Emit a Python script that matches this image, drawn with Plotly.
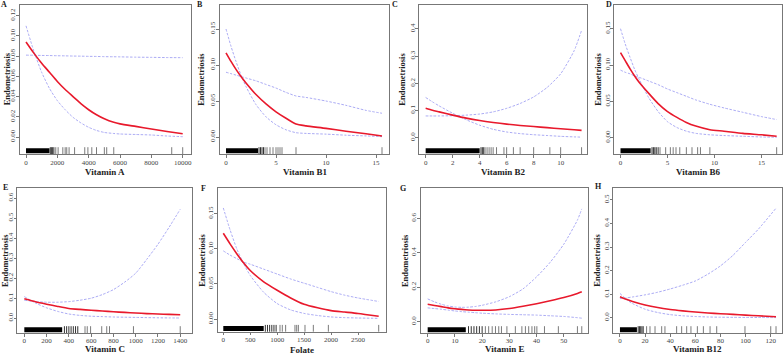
import plotly.graph_objects as go

W, H = 784, 354

# ---------------- data ----------------
A_x = [0, 500, 1000, 1500, 2000, 2500, 3000, 3500, 4000, 4500, 5000, 5600, 6000, 7000, 8000, 9000, 10000]
A_fit = [0.094, 0.083, 0.073, 0.064, 0.055, 0.047, 0.040, 0.033, 0.027, 0.022, 0.018, 0.0145, 0.013, 0.0105, 0.008, 0.0055, 0.0033]
A_lo = [0.110, 0.085, 0.064, 0.048, 0.036, 0.027, 0.0195, 0.014, 0.0096, 0.0065, 0.0045, 0.0035, 0.003, 0.0025, 0.002, 0.001, 0.0003]
A_hi = [0.081, 0.0809, 0.0807, 0.0806, 0.0804, 0.0803, 0.0801, 0.08, 0.0798, 0.0797, 0.0795, 0.0794, 0.0793, 0.079, 0.0788, 0.0786, 0.0785]

B_x = [0, 0.5, 1, 1.5, 2, 3, 4, 5, 6, 7, 8, 10, 12, 14, 15.6]
B_fit = [0.117, 0.105, 0.094, 0.084, 0.075, 0.059, 0.046, 0.035, 0.026, 0.018, 0.0155, 0.012, 0.008, 0.0045, 0.0015]
B_lo = [0.150, 0.126, 0.105, 0.086, 0.070, 0.045, 0.028, 0.017, 0.010, 0.006, 0.005, 0.004, 0.0025, 0.0015, 0.0005]
B_hi = [0.090, 0.088, 0.086, 0.084, 0.082, 0.078, 0.073, 0.068, 0.062, 0.057, 0.055, 0.050, 0.044, 0.037, 0.033]

C_x = [0, 0.5, 1, 2, 3, 4, 5, 6, 7, 8, 9, 10, 11, 11.55]
C_fit = [0.108, 0.101, 0.095, 0.083, 0.072, 0.063, 0.056, 0.050, 0.045, 0.041, 0.037, 0.033, 0.029, 0.027]
C_lo = [0.148, 0.132, 0.117, 0.090, 0.066, 0.046, 0.031, 0.021, 0.015, 0.011, 0.008, 0.005, 0.003, 0.002]
C_hi = [0.080, 0.080, 0.080, 0.081, 0.083, 0.087, 0.095, 0.108, 0.126, 0.150, 0.185, 0.235, 0.320, 0.395]

D_x = [0, 0.5, 1, 1.5, 2, 3, 4, 5, 6, 7, 8, 9.5, 11, 13, 15, 16.6]
D_fit = [0.117, 0.106, 0.095, 0.085, 0.076, 0.061, 0.047, 0.036, 0.028, 0.021, 0.016, 0.011, 0.009, 0.006, 0.004, 0.002]
D_lo = [0.150, 0.129, 0.111, 0.094, 0.080, 0.055, 0.036, 0.022, 0.014, 0.009, 0.006, 0.004, 0.003, 0.002, 0.001, 0.0005]
D_hi = [0.093, 0.090, 0.088, 0.085, 0.083, 0.078, 0.073, 0.067, 0.062, 0.057, 0.052, 0.046, 0.041, 0.035, 0.029, 0.025]

E_x = [0, 100, 200, 300, 400, 500, 600, 700, 800, 900, 1000, 1100, 1200, 1300, 1400]
E_fit = [0.097, 0.082, 0.070, 0.059, 0.049, 0.044, 0.040, 0.036, 0.032, 0.029, 0.026, 0.023, 0.021, 0.019, 0.017]
E_lo = [0.108, 0.076, 0.052, 0.034, 0.021, 0.014, 0.010, 0.008, 0.006, 0.005, 0.004, 0.003, 0.002, 0.0015, 0.001]
E_hi = [0.090, 0.083, 0.080, 0.080, 0.083, 0.090, 0.100, 0.118, 0.143, 0.180, 0.225, 0.295, 0.370, 0.455, 0.545]

F_x = [0, 125, 250, 375, 500, 750, 1000, 1250, 1500, 1750, 2000, 2250, 2500, 2884]
F_fit = [0.122, 0.107, 0.093, 0.080, 0.069, 0.053, 0.041, 0.030, 0.021, 0.016, 0.012, 0.010, 0.008, 0.004]
F_lo = [0.158, 0.127, 0.100, 0.079, 0.062, 0.038, 0.022, 0.013, 0.008, 0.005, 0.003, 0.002, 0.0015, 0.001]
F_hi = [0.097, 0.091, 0.086, 0.081, 0.078, 0.071, 0.064, 0.057, 0.051, 0.045, 0.039, 0.034, 0.030, 0.025]

G_x = [0, 2.5, 5, 7.5, 10, 12.5, 15, 17.5, 20, 25, 30, 35, 40, 45, 50, 55, 56.6]
G_fit = [0.101, 0.094, 0.087, 0.080, 0.075, 0.071, 0.068, 0.066, 0.066, 0.068, 0.076, 0.089, 0.104, 0.121, 0.140, 0.164, 0.174]
G_lo = [0.080, 0.076, 0.072, 0.067, 0.062, 0.058, 0.055, 0.052, 0.049, 0.045, 0.042, 0.040, 0.038, 0.034, 0.030, 0.023, 0.020]
G_hi = [0.132, 0.115, 0.101, 0.091, 0.085, 0.083, 0.084, 0.088, 0.095, 0.115, 0.145, 0.190, 0.260, 0.345, 0.450, 0.590, 0.655]

H_x = [0, 5, 10, 20, 30, 40, 50, 60, 70, 80, 90, 100, 110, 124.2]
H_fit = [0.089, 0.078, 0.069, 0.054, 0.043, 0.035, 0.029, 0.024, 0.020, 0.017, 0.014, 0.011, 0.008, 0.004]
H_lo = [0.103, 0.078, 0.060, 0.036, 0.022, 0.013, 0.008, 0.005, 0.003, 0.002, 0.0015, 0.001, 0.0008, 0.0005]
H_hi = [0.081, 0.084, 0.088, 0.097, 0.108, 0.122, 0.138, 0.156, 0.185, 0.220, 0.265, 0.320, 0.375, 0.465]

# rug data: dense band (lo, hi), fading ticks, sparse ticks
A_rug_band = [0, 1500]
A_rug_mid = [1550, 1620, 1700, 1780]
A_rug = [1900, 2050, 2350, 2500, 2600, 2750, 3100, 3750, 3950, 4200, 4500, 5000, 5150, 5600, 9300, 10000]
B_rug_band = [0, 3.2]
B_rug_mid = [3.3, 3.45, 3.6, 3.75]
B_rug = [3.9, 4.1, 4.4, 4.7, 5.0, 5.2, 5.4, 5.6, 7.0, 15.6]
C_rug_band = [0, 4.0]
C_rug_mid = [4.1, 4.2, 4.3]
C_rug = [4.4, 4.55, 4.7, 4.85, 5.0, 5.25, 5.8, 6.0, 6.5, 7.0, 8.0, 9.2, 10.0, 11.55]
D_rug_band = [0, 3.2]
D_rug_mid = [3.35, 3.5, 3.65, 3.8, 4.0]
D_rug = [4.2, 4.8, 5.3, 5.6, 5.9, 6.3, 7.0, 7.6, 8.2, 8.5, 9.5, 16.6]
E_rug_band = [0, 340]
E_rug_mid = [360, 380, 400, 420, 440, 460, 480]
E_rug = [545, 565, 595, 695, 740, 765, 980, 1400]
F_rug_band = [0, 750]
F_rug_mid = [780, 820, 860, 900, 940, 980]
F_rug = [1052, 1095, 1157, 1330, 1362, 1393, 1516, 1671, 1950, 2884]
G_rug_band = [0, 14]
G_rug_mid = [15, 16, 17, 18, 19, 20]
G_rug = [21.2, 22.4, 23.7, 24.9, 26.1, 27.1, 29.1, 32.2, 34.6, 35.9, 37.1, 38.3, 39.3, 40.1, 42.9, 48.0, 55.0, 56.6]
H_rug_band = [0, 13.5]
H_rug_mid = [14.5, 15.5, 16.5, 17.5, 18.5]
H_rug = [21.2, 23.9, 27.9, 33.2, 35.8, 45.1, 49.1, 53.1, 56.5, 61.6, 66.4, 71.7, 77.0, 99.5, 120, 124.2]

letters = ["A", "B", "C", "D", "E", "F", "G", "H"]
x_titles = ["Vitamin A", "Vitamin B1", "Vitamin B2", "Vitamin B6",
            "Vitamin C", "Folate", "Vitamin E", "Vitamin B12"]
y_title = "Endometriosis"
x_ticks = [[0, 2000, 4000, 6000, 8000, 10000], [0, 5, 10, 15], [0, 2, 4, 6, 8, 10], [0, 5, 10, 15],
           [0, 200, 400, 600, 800, 1000, 1200, 1400], [0, 500, 1000, 1500, 2000, 2500],
           [0, 10, 20, 30, 40, 50], [0, 20, 40, 60, 80, 100, 120]]
y_ticks = [[0, 0.02, 0.04, 0.06, 0.08, 0.10, 0.12], [0, 0.05, 0.10, 0.15], [0, 0.1, 0.2, 0.3, 0.4],
           [0, 0.05, 0.10, 0.15], [0, 0.1, 0.2, 0.3, 0.4, 0.5, 0.6], [0, 0.05, 0.10, 0.15],
           [0, 0.2, 0.4, 0.6], [0, 0.1, 0.2, 0.3, 0.4, 0.5]]
y_fmt = [".2f", ".2f", ".1f", ".2f", ".1f", ".2f", ".1f", ".1f"]

series = [
    (A_x, A_fit, A_lo, A_hi, A_rug_band, A_rug_mid, A_rug),
    (B_x, B_fit, B_lo, B_hi, B_rug_band, B_rug_mid, B_rug),
    (C_x, C_fit, C_lo, C_hi, C_rug_band, C_rug_mid, C_rug),
    (D_x, D_fit, D_lo, D_hi, D_rug_band, D_rug_mid, D_rug),
    (E_x, E_fit, E_lo, E_hi, E_rug_band, E_rug_mid, E_rug),
    (F_x, F_fit, F_lo, F_hi, F_rug_band, F_rug_mid, F_rug),
    (G_x, G_fit, G_lo, G_hi, G_rug_band, G_rug_mid, G_rug),
    (H_x, H_fit, H_lo, H_hi, H_rug_band, H_rug_mid, H_rug),
]

# ---------------- layout geometry (pixels) ----------------
boxes = [(20, 191, 4.7, 154), (220, 389.3, 4.7, 154), (419.3, 586.7, 4.7, 154), (614.3, 782.3, 4.7, 154),
         (17.3, 191.7, 188.3, 333), (217.7, 385.7, 188.3, 331.7), (420.7, 587.5, 187.7, 333),
         (613.3, 782.3, 187.7, 333)]
x_ranges = [(-383, 10530), (-0.6, 16.33), (-0.47, 11.93), (-0.66, 17.2),
            (-63, 1503), (-104, 3014), (-2.56, 58.7), (-5.3, 129.2)]
y_ranges = [(-0.0168, 0.1309), (-0.0236, 0.1838), (-0.060, 0.4894), (-0.0224, 0.183),
            (-0.074, 0.65), (-0.018, 0.186), (-0.066, 0.778), (-0.065, 0.552)]
letter_pos = [(4, 4), (200, 4), (395, 4), (609, 4), (5, 187), (203, 188), (403, 188), (598, 186)]
ytitle_offset = [13, 18.5, 17, 16, 13, 16, 15, 16]
xtitle_y = [172, 172, 172, 172, 349, 349.5, 349, 349]

FONT = "Liberation Serif"
RED = "#e8192c"
BLUE = "#9c9cf2"

fig = go.Figure()
layout = {}
annotations = []

for i, (xs, fit, lo, hi, band, mid, rug) in enumerate(series):
    n = "" if i == 0 else str(i + 1)
    xa, ya = "x" + n, "y" + n
    x0, x1, y0, y1 = boxes[i]
    ymin, ymax = y_ranges[i]
    hpx = y1 - y0
    y_rug = ymin + (ymax - ymin) * (3.3 / hpx)

    for ys in (lo, hi):
        fig.add_trace(go.Scatter(x=xs, y=ys, mode="lines", xaxis=xa, yaxis=ya,
                                 line=dict(color=BLUE, width=0.85, dash="2.5px,1.5px", shape="spline", smoothing=0.6),
                                 showlegend=False, hoverinfo="skip"))
    fig.add_trace(go.Scatter(x=xs, y=fit, mode="lines", xaxis=xa, yaxis=ya,
                             line=dict(color=RED, width=1.6, shape="spline", smoothing=0.6),
                             showlegend=False, hoverinfo="skip"))
    # rug
    fig.add_trace(go.Scatter(x=band, y=[y_rug, y_rug], mode="lines", xaxis=xa, yaxis=ya,
                             line=dict(color="black", width=5), showlegend=False, hoverinfo="skip"))
    fig.add_trace(go.Scatter(x=mid, y=[y_rug] * len(mid), mode="markers", xaxis=xa, yaxis=ya,
                             marker=dict(symbol="line-ns-open", size=5, color="#333",
                                         line=dict(color="#333", width=1.0)),
                             showlegend=False, hoverinfo="skip"))
    fig.add_trace(go.Scatter(x=rug, y=[y_rug] * len(rug), mode="markers", xaxis=xa, yaxis=ya,
                             marker=dict(symbol="line-ns-open", size=5, color="#222",
                                         line=dict(color="#222", width=0.6)),
                             showlegend=False, hoverinfo="skip"))

    common = dict(showline=True, mirror=True, linecolor="#777", linewidth=1, showgrid=False,
                  zeroline=False, ticks="outside", ticklen=3 if i < 4 else 2.5, tickcolor="#777",
                  tickwidth=0.8, automargin=False,
                  tickfont=dict(family=FONT, size=7, color="#444"))
    layout["xaxis" + n] = dict(domain=[x0 / W, x1 / W], range=list(x_ranges[i]), anchor=ya,
                               tickvals=x_ticks[i], tickformat="d",
                               ticklabelstandoff=-1 if i < 4 else -2, **common)
    layout["yaxis" + n] = dict(domain=[1 - y1 / H, 1 - y0 / H], range=[ymin, ymax], anchor=xa,
                               tickvals=y_ticks[i], tickformat=y_fmt[i], tickangle=-90,
                               ticklabelstandoff=-2, **common)

    # axis titles
    annotations.append(dict(text="<b>" + x_titles[i] + "</b>", x=(x0 + x1) / 2 / W, y=1 - xtitle_y[i] / H,
                            xref="paper", yref="paper", showarrow=False, xanchor="center", yanchor="middle",
                            font=dict(family=FONT, size=9, color="#222")))
    annotations.append(dict(text="<b>" + y_title + "</b>", x=(x0 - ytitle_offset[i]) / W,
                            y=1 - (y0 + y1) / 2 / H, textangle=-90,
                            xref="paper", yref="paper", showarrow=False, xanchor="center", yanchor="middle",
                            font=dict(family=FONT, size=8.5, color="#222")))
    lx, ly = letter_pos[i]
    annotations.append(dict(text="<b>" + letters[i] + "</b>", x=lx / W, y=1 - ly / H,
                            xref="paper", yref="paper", showarrow=False,
                            xanchor="center", yanchor="middle",
                            font=dict(family=FONT, size=8, color="#222")))

fig.update_layout(width=W, height=H, margin=dict(l=0, r=0, t=0, b=0),
                  paper_bgcolor="white", plot_bgcolor="white",
                  annotations=annotations, **layout)

fig.write_html("out.html", config={"displayModeBar": False})
with open("out.html", "r", encoding="utf-8") as fh:
    html = fh.read()
html = html.replace("<head>", "<head><style>html,body{margin:0;padding:0;overflow:hidden;}</style>", 1)
with open("out.html", "w", encoding="utf-8") as fh:
    fh.write(html)
